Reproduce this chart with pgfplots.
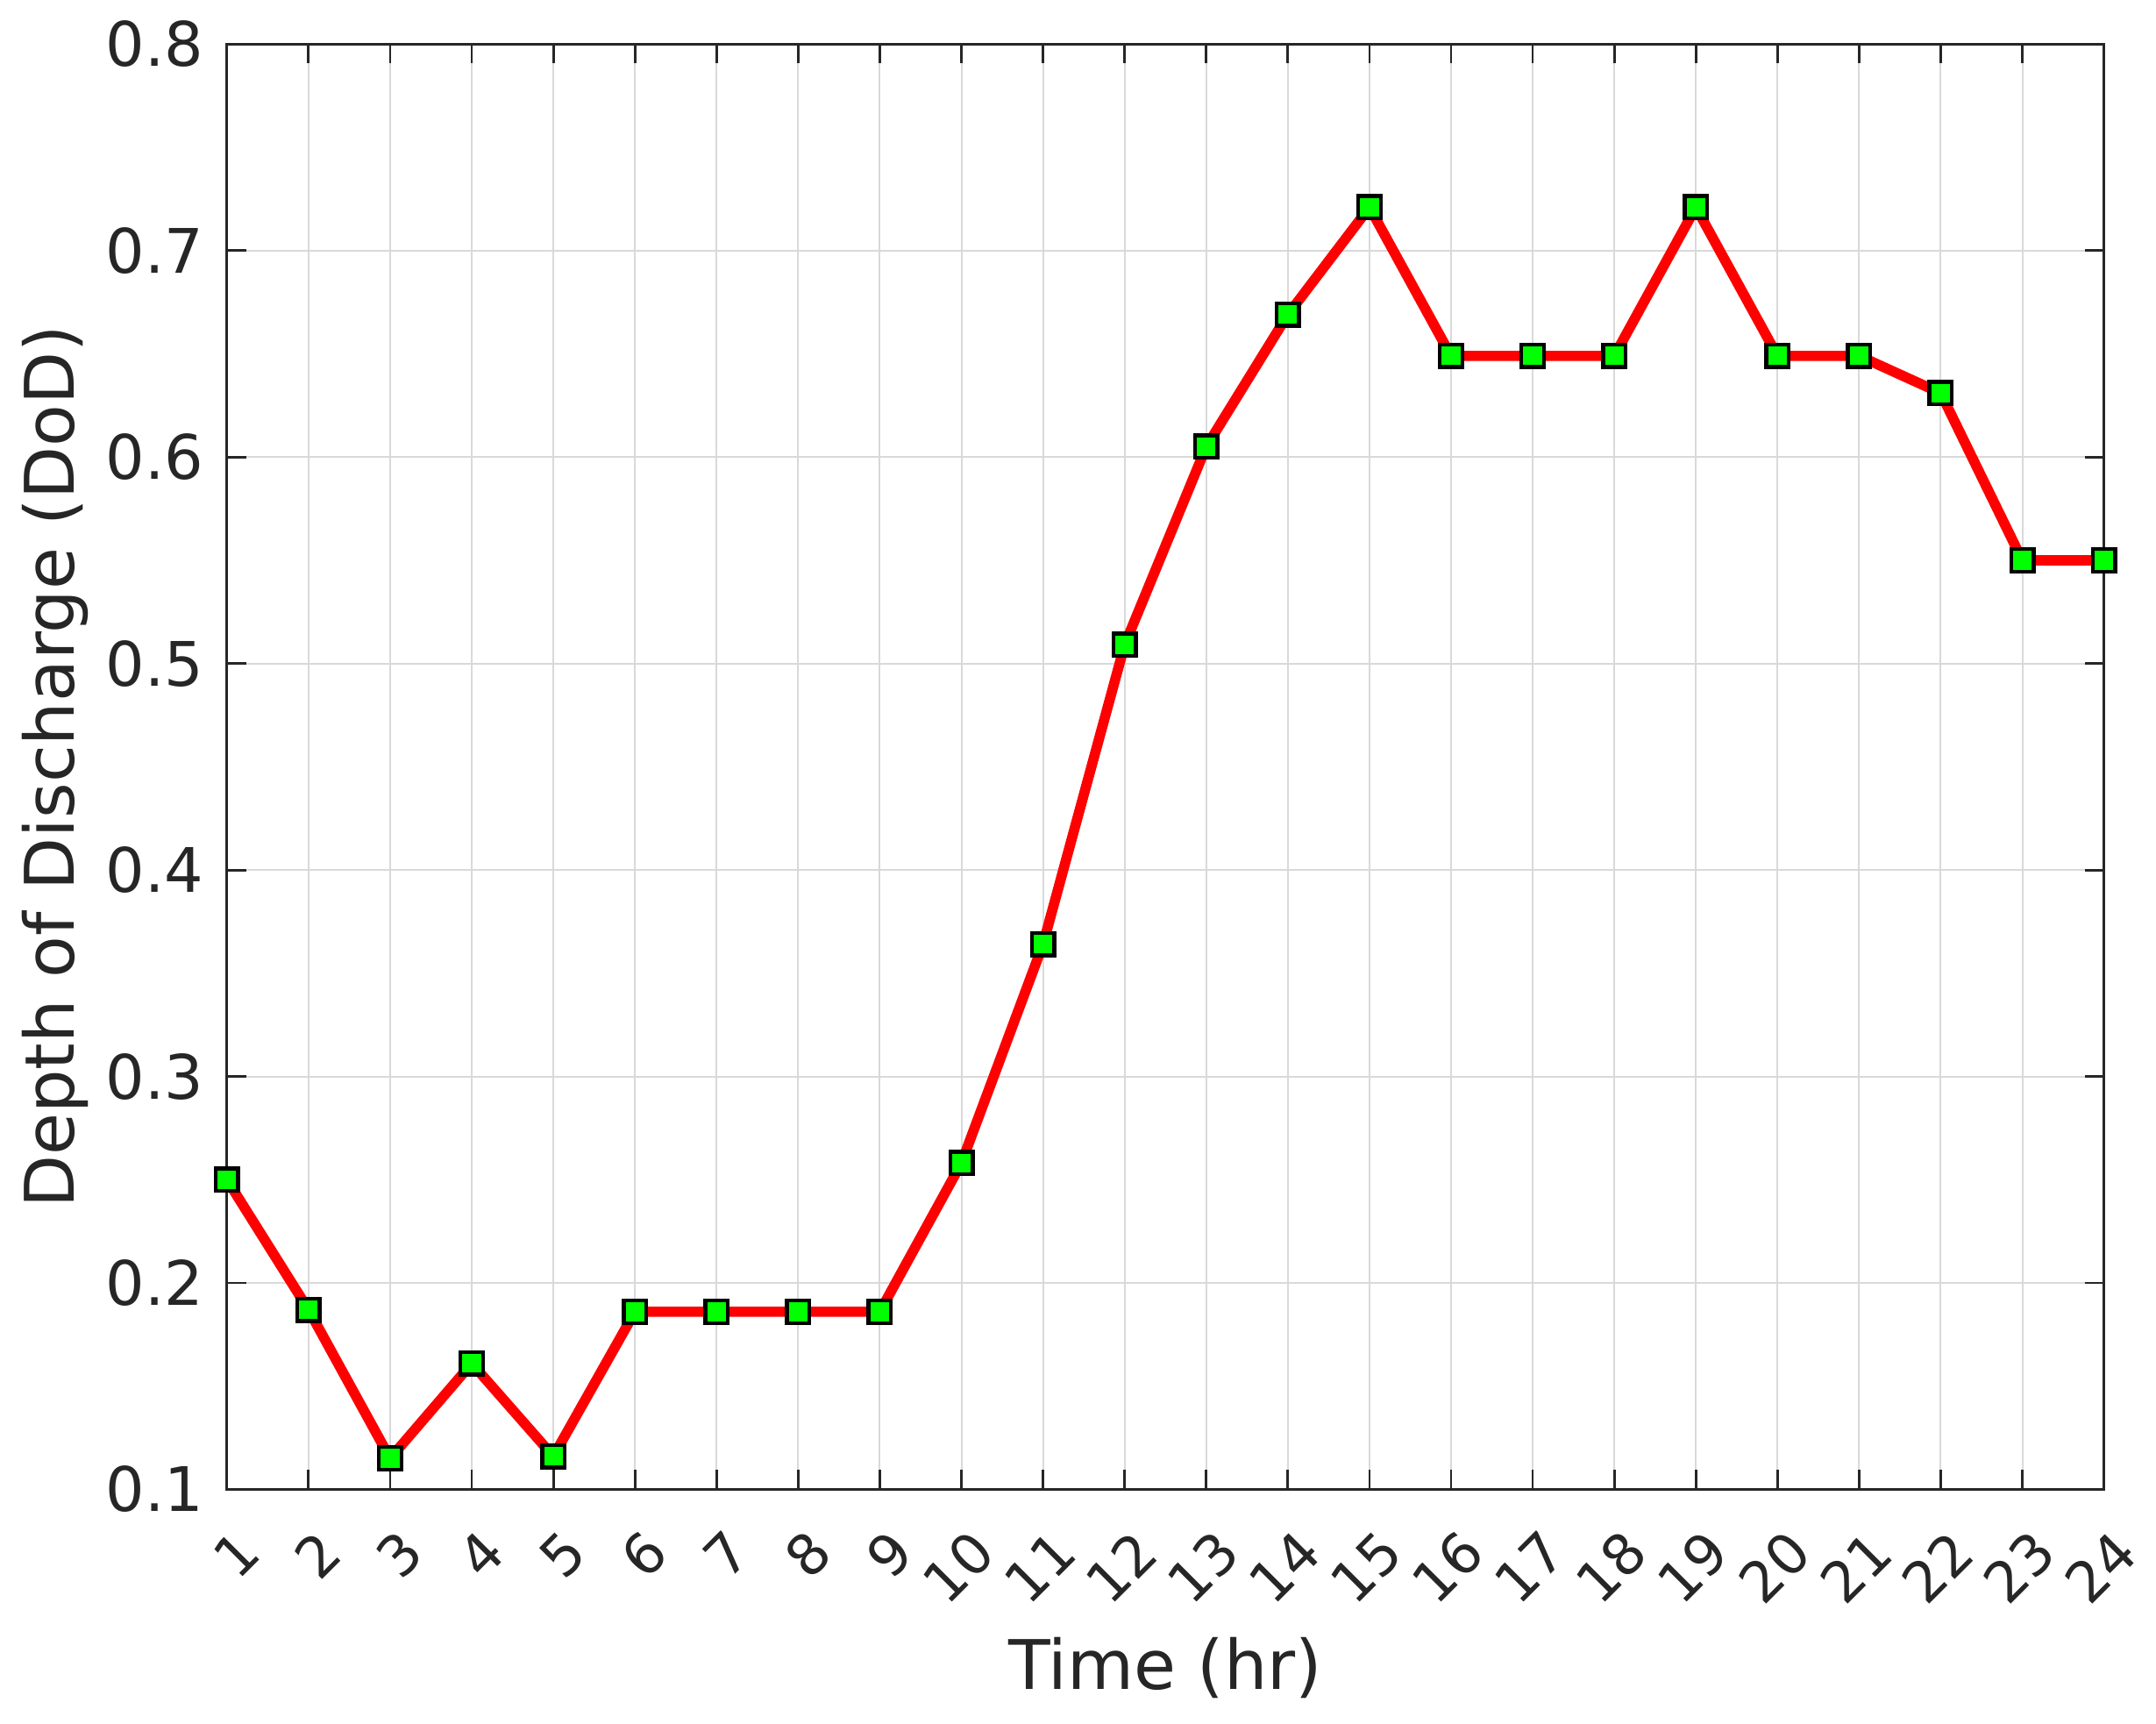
\documentclass[border=0pt]{standalone}
\usepackage{fontspec}
\setmainfont{DejaVu Sans}
\usepackage{pgfplots}
\pgfplotsset{compat=1.18}
\definecolor{axgray}{gray}{0.15}
\definecolor{gridgray}{gray}{0.85}
\definecolor{mgreen}{rgb}{0,1,0}
\begin{document}
\begin{tikzpicture}
\path[use as bounding box] (0,0) rectangle (614.75pt,491.5pt);
\begin{axis}[
  at={(64.7pt,66.9pt)}, anchor=south west,
  scale only axis, width=535.2pt, height=412pt,
  xmin=1, xmax=24, ymin=0.1, ymax=0.8,
  xtick={1,2,...,24},
  ytick={0.1,0.2,0.3,0.4,0.5,0.6,0.7,0.8},
  yticklabels={0.1,0.2,0.3,0.4,0.5,0.6,0.7,0.8},
  /pgf/number format/assume math mode=true,
  clip=false,
  grid=major,
  major grid style={line width=0.5pt, draw=gridgray},
  axis line style={line width=0.7pt, draw=axgray},
  every tick/.style={line width=0.7pt, draw=axgray},
  tick align=inside,
  major tick length=5.5pt,
  tick pos=both,
  xticklabel pos=bottom, yticklabel pos=left,
  yticklabel style={font=\fontsize{17.5}{21}\selectfont, text=axgray, inner sep=0pt, anchor=east, xshift=-6.5pt},
  xticklabel style={font=\fontsize{16}{19}\selectfont, text=axgray, inner sep=0pt, xshift=6.4pt, yshift=-14.9pt, rotate=45, anchor=east},
  xlabel={Time (hr)},
  ylabel={Depth of Discharge (DoD)},
  xlabel style={font=\fontsize{19.5}{23}\selectfont, text=axgray, at={(axis description cs:0.5,0)}, anchor=base, inner sep=0pt, yshift=-57.15pt},
  ylabel style={font=\fontsize{19.5}{23}\selectfont, text=axgray, at={(axis description cs:0,0.5)}, anchor=base, inner sep=0pt, yshift=43.45pt},
]
\addplot[color=red, line width=2.9pt, mark=square*, mark size=3.2pt,
  mark options={fill=mgreen, draw=black, line width=1.1pt, solid}]
coordinates {
(1,0.250) (2,0.187) (3,0.115) (4,0.161) (5,0.116) (6,0.186)
(7,0.186) (8,0.186) (9,0.186) (10,0.258) (11,0.364) (12,0.509)
(13,0.605) (14,0.669) (15,0.721) (16,0.649) (17,0.649) (18,0.649)
(19,0.721) (20,0.649) (21,0.649) (22,0.631) (23,0.550) (24,0.550)
};
\end{axis}
\end{tikzpicture}
\end{document}
